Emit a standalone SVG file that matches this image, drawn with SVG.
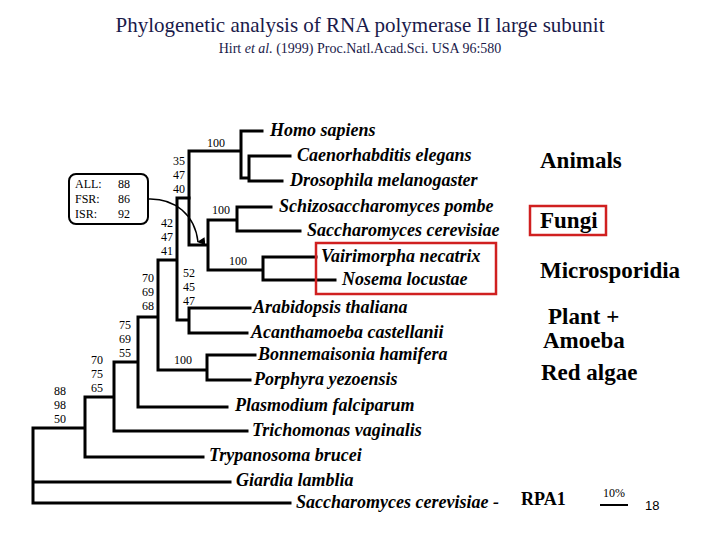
<svg xmlns="http://www.w3.org/2000/svg" width="720" height="540" viewBox="0 0 720 540">
<style>
.t{font-family:"Liberation Serif",serif;font-weight:bold;font-style:italic;font-size:18px;fill:#000}
.n{font-family:"Liberation Serif",serif;font-size:12px;fill:#000}
.g{font-family:"Liberation Serif",serif;font-weight:bold;font-size:23px;fill:#000}
.e{fill:none;stroke:#000;stroke-width:3;stroke-linecap:square}
</style>
<defs><marker id="ah" markerWidth="8" markerHeight="8" refX="4" refY="7" orient="auto-start-reverse" markerUnits="userSpaceOnUse"><path d="M0,0 L4,8 L8,0 Z" fill="#000"/></marker></defs>
<rect width="720" height="540" fill="#fff"/>
<text x="360" y="32" text-anchor="middle" font-family="Liberation Serif,serif" font-size="21" fill="#1a1a4a">Phylogenetic analysis of RNA polymerase II large subunit</text>
<text x="360" y="53" text-anchor="middle" font-family="Liberation Serif,serif" font-size="14" fill="#1a1a4a">Hirt <tspan font-style="italic">et al.</tspan> (1999) Proc.Natl.Acad.Sci. USA 96:580</text>
<g id="connectors">
<path class="e" d="M241,131H262 M241,131V178H249 M249,156H290 M249,156V181H282 M189,151H241 M189,151V245H208 M208,220V270 M208,220H237 M237,207V231 M237,207H271 M237,231H300 M208,270H263 M263,257V280 M263,257H316 M263,280H335"/>
<path class="e" d="M177,198H189 M177,198V320H189 M189,308V333 M189,308H250 M189,333H247 M158,260H177 M158,260V370H207 M207,355V380 M207,355H255 M207,380H250 M138,317H158 M138,317V407H227 M114,362H138 M114,362V431H247 M85,397H114 M85,397V457H203 M33,428H85 M33,428V503H290 M33,482H230"/>
<path d="M148,199 C175,198 195,215 198,242" fill="none" stroke="#000" stroke-width="1.5" marker-end="url(#ah)"/>
<path d="M600,505H628" stroke="#000" stroke-width="2"/>
</g>
<g id="box"><rect x="69" y="174" width="79" height="50" rx="7" fill="#fff" stroke="#000" stroke-width="2"/>
<text class="n" x="75" y="188">ALL:</text><text class="n" x="118" y="188">88</text>
<text class="n" x="75" y="203">FSR:</text><text class="n" x="118" y="203">86</text>
<text class="n" x="75" y="218">ISR:</text><text class="n" x="118" y="218">92</text></g>
<g id="support">
<text class="n" x="207" y="147">100</text>
<text class="n" x="173" y="165">35</text><text class="n" x="173" y="179">47</text><text class="n" x="173" y="193">40</text>
<text class="n" x="212" y="214">100</text>
<text class="n" x="161" y="227">42</text><text class="n" x="161" y="241">47</text><text class="n" x="161" y="255">41</text>
<text class="n" x="229" y="265">100</text>
<text class="n" x="183" y="277">52</text><text class="n" x="183" y="291">45</text><text class="n" x="183" y="305">47</text>
<text class="n" x="142" y="282">70</text><text class="n" x="142" y="296">69</text><text class="n" x="142" y="310">68</text>
<text class="n" x="119" y="329">75</text><text class="n" x="119" y="343">69</text><text class="n" x="119" y="357">55</text>
<text class="n" x="174" y="364">100</text>
<text class="n" x="91" y="364">70</text><text class="n" x="91" y="378">75</text><text class="n" x="91" y="392">65</text>
<text class="n" x="54" y="395">88</text><text class="n" x="54" y="409">98</text><text class="n" x="54" y="423">50</text>
</g>
<g id="taxa">
<text class="t" x="270" y="136">Homo sapiens</text>
<text class="t" x="297" y="161">Caenorhabditis elegans</text>
<text class="t" x="290" y="186">Drosophila melanogaster</text>
<text class="t" x="279" y="212">Schizosaccharomyces pombe</text>
<text class="t" x="307" y="236">Saccharomyces cerevisiae</text>
<text class="t" x="321" y="262">Vairimorpha necatrix</text>
<text class="t" x="342" y="285">Nosema locustae</text>
<text class="t" x="253" y="313">Arabidopsis thaliana</text>
<text class="t" x="251" y="338">Acanthamoeba castellanii</text>
<text class="t" x="258" y="360">Bonnemaisonia hamifera</text>
<text class="t" x="254" y="385">Porphyra yezoensis</text>
<text class="t" x="235" y="411">Plasmodium falciparum</text>
<text class="t" x="252" y="436">Trichomonas vaginalis</text>
<text class="t" x="209" y="461">Trypanosoma brucei</text>
<text class="t" x="236" y="486">Giardia lamblia</text>
<text class="t" x="296" y="508">Saccharomyces cerevisiae -</text>
</g>
<g id="groups">
<rect x="316" y="243" width="180" height="51" fill="none" stroke="#d02020" stroke-width="2.5"/>
<rect x="530" y="206" width="76" height="29" fill="none" stroke="#d02020" stroke-width="2.5"/>
<text class="g" x="540" y="168">Animals</text>
<text class="g" x="540" y="228">Fungi</text>
<text class="g" x="540" y="278">Microsporidia</text>
<text class="g" x="548" y="324">Plant +</text>
<text class="g" x="543" y="348">Amoeba</text>
<text class="g" x="541" y="380">Red algae</text>
<text x="521" y="505" font-family="Liberation Serif,serif" font-weight="bold" font-size="18">RPA1</text>
<text x="603" y="497" font-family="Liberation Serif,serif" font-size="12">10%</text>
<text x="645" y="510" font-family="Liberation Sans,Arial,sans-serif" font-size="13">18</text>
</g>
</svg>
